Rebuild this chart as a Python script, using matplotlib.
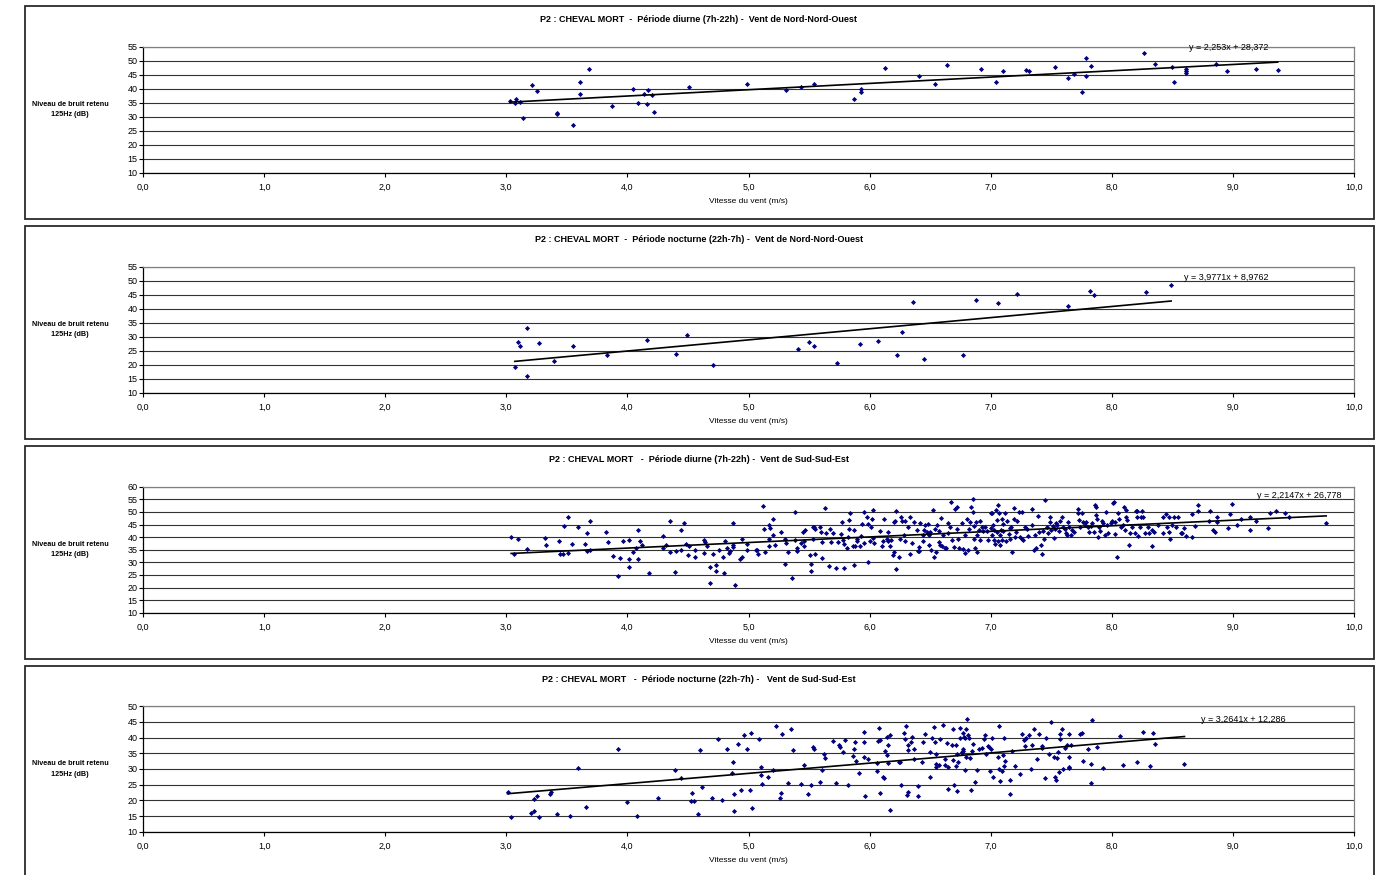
import numpy as np
import matplotlib.pyplot as plt
from matplotlib.patches import Rectangle
from matplotlib.ticker import FuncFormatter

plt.rcParams['font.family'] = ['Liberation Sans', 'DejaVu Sans']

# ---- données : vitesse du vent (m/s) / niveau de bruit 125Hz (dB) ----
titles = [
    "P2 : CHEVAL MORT  -  Période diurne (7h-22h) -  Vent de Nord-Nord-Ouest",
    "P2 : CHEVAL MORT  -  Période nocturne (22h-7h) -  Vent de Nord-Nord-Ouest",
    "P2 : CHEVAL MORT   -  Période diurne (7h-22h) -  Vent de Sud-Sud-Est",
    "P2 : CHEVAL MORT   -  Période nocturne (22h-7h) -   Vent de Sud-Sud-Est",
]
y_max = [55, 55, 60, 50]
trend_a = [2.253, 3.9771, 2.2147, 3.2641]
trend_b = [28.372, 8.9762, 26.778, 12.286]

x1 = [3.03, 3.07, 3.08, 3.11, 3.14, 3.21, 3.25, 3.42, 3.42, 3.55, 3.61, 3.61, 3.68, 3.87,
      4.05, 4.09, 4.14, 4.17, 4.16, 4.20, 4.22, 4.51, 4.99, 5.31, 5.43, 5.54, 5.87, 5.93,
      5.93, 6.13, 6.41, 6.54, 6.64, 6.92, 7.04, 7.10, 7.29, 7.32, 7.53, 7.64, 7.69, 7.75,
      7.79, 7.79, 7.83, 8.27, 8.36, 8.50, 8.51, 8.61, 8.61, 8.61, 8.86, 8.95, 9.19, 9.37]
y1 = [35.7, 34.9, 36.3, 35.1, 29.5, 41.3, 39.2, 31.4, 31.0, 26.9, 42.5, 38.2, 47.1, 33.8,
      40.0, 34.9, 38.2, 39.5, 34.6, 37.9, 31.5, 40.5, 41.8, 39.6, 40.7, 41.5, 36.2, 39.9,
      38.7, 47.5, 44.5, 41.5, 48.3, 46.9, 42.4, 46.4, 46.7, 46.4, 47.7, 43.8, 45.2, 38.9,
      50.8, 44.5, 48.1, 52.6, 48.7, 47.7, 42.4, 47.0, 46.3, 45.7, 48.7, 46.4, 47.1, 46.7]

x2 = [3.07, 3.10, 3.11, 3.17, 3.17, 3.27, 3.39, 3.55, 3.83, 4.16, 4.40, 4.49, 4.71, 5.41,
      5.50, 5.54, 5.73, 5.92, 6.07, 6.23, 6.27, 6.36, 6.45, 6.77, 6.88, 7.06, 7.22, 7.64,
      7.82, 7.85, 8.28, 8.49]
y2 = [19.3, 28.0, 26.7, 33.1, 16.0, 27.6, 21.3, 26.7, 23.6, 28.7, 23.8, 30.5, 19.8, 25.5,
      28.2, 26.7, 20.7, 27.4, 28.5, 23.3, 31.5, 42.4, 22.0, 23.6, 43.1, 42.0, 45.2, 41.1,
      46.4, 44.9, 45.9, 48.5]

pts3 = [
    (3.04, 40.1), (3.06, 33.4), (3.10, 39.4), (3.17, 35.2), (3.32, 39.7), (3.33, 36.8),
    (3.435, 38.6), (3.44, 33.2), (3.47, 33.4), (3.48, 44.6), (3.51, 33.8), (3.51, 48.0),
    (3.54, 37.4), (3.59, 44.0), (3.65, 37.4), (3.67, 41.8), (3.67, 34.4), (3.69, 34.8),
    (3.69, 46.5), (3.82, 42.1), (3.84, 38.1), (3.88, 32.6), (3.925, 24.6), (3.94, 31.8),
    (3.96, 38.6), (4.01, 38.9), (4.01, 31.2), (4.01, 28.3), (4.05, 33.9), (4.07, 35.5),
    (4.09, 42.8), (4.09, 31.4), (4.10, 38.4), (4.12, 36.8), (4.18, 25.8), (4.29, 40.5),
    (4.29, 35.5), (4.32, 36.8), (4.35, 46.3), (4.35, 34.1), (4.39, 26.2), (4.40, 34.4),
    (4.44, 42.8), (4.44, 34.7), (4.47, 45.6), (4.48, 37.2), (4.50, 33.0), (4.51, 36.5),
    (4.56, 34.7), (4.56, 32.0), (4.63, 38.9), (4.63, 33.6), (4.64, 38.1), (4.66, 36.6),
    (4.68, 28.3), (4.685, 21.9), (4.71, 33.1), (4.73, 29.1), (4.73, 26.4), (4.76, 34.7),
    (4.79, 32.3), (4.80, 25.8), (4.81, 38.4), (4.82, 35.5), (4.84, 33.6), (4.85, 34.4),
    (4.87, 36.8), (4.87, 35.9), (4.87, 45.5), (4.89, 20.8), (4.93, 31.5), (4.95, 32.3),
    (4.95, 39.4), (4.99, 37.3), (4.99, 34.7), (5.06, 34.7), (5.07, 34.9), (5.08, 33.2),
    (5.12, 52.3), (5.13, 43.1), (5.14, 34.1), (5.17, 44.7), (5.17, 39.4), (5.17, 36.5),
    (5.18, 43.6), (5.20, 47.1), (5.20, 40.7), (5.22, 36.9), (5.27, 42.2), (5.30, 39.4),
    (5.30, 29.4), (5.31, 37.8), (5.33, 34.1), (5.36, 23.9), (5.38, 38.9), (5.38, 50.0),
    (5.40, 35.5), (5.40, 34.5), (5.43, 37.8), (5.45, 42.2), (5.46, 36.5), (5.46, 38.6),
    (5.47, 42.8), (5.51, 32.8), (5.52, 29.3), (5.52, 26.4), (5.53, 43.9), (5.535, 39.4),
    (5.54, 43.9), (5.55, 33.4), (5.55, 43.4), (5.59, 44.0), (5.60, 42.1), (5.605, 31.8),
    (5.61, 38.1), (5.63, 51.4), (5.64, 41.5), (5.665, 28.6), (5.67, 43.4), (5.68, 38.1),
    (5.695, 41.5), (5.72, 27.8), (5.74, 38.1), (5.76, 41.3), (5.77, 45.8), (5.78, 38.9),
    (5.79, 37.3), (5.79, 27.8), (5.81, 35.5), (5.82, 40.2), (5.83, 46.7), (5.83, 43.1),
    (5.84, 49.7), (5.86, 36.5), (5.87, 42.8), (5.87, 29.1), (5.88, 36.3), (5.90, 39.4),
    (5.90, 38.6), (5.92, 36.3), (5.93, 40.5), (5.94, 45.2), (5.95, 37.8), (5.95, 50.0),
    (5.98, 48.1), (5.99, 45.2), (5.99, 30.2), (6.00, 38.4), (6.01, 44.2), (6.02, 47.3),
    (6.03, 50.8), (6.03, 39.7), (6.04, 37.8), (6.09, 42.6), (6.10, 36.3), (6.11, 38.6),
    (6.12, 47.1), (6.14, 39.4), (6.15, 42.1), (6.155, 38.4), (6.17, 36.5), (6.18, 38.9),
    (6.19, 32.8), (6.20, 33.9), (6.20, 45.8), (6.21, 46.3), (6.22, 27.5), (6.22, 50.5),
    (6.24, 32.0), (6.25, 39.4), (6.26, 48.1), (6.27, 46.3), (6.28, 41.0), (6.29, 46.5),
    (6.29, 38.4), (6.32, 44.2), (6.33, 48.1), (6.33, 33.1), (6.35, 37.8), (6.37, 45.8),
    (6.39, 42.8), (6.40, 34.4), (6.41, 36.0),
    (6.41, 34.4), (6.42, 45.5), (6.44, 41.0), (6.44, 38.6), (6.45, 42.8), (6.46, 45.0),
    (6.47, 42.1), (6.48, 45.2), (6.49, 40.7), (6.49, 36.8), (6.50, 42.1), (6.51, 34.7),
    (6.52, 50.8), (6.53, 32.0), (6.54, 43.1), (6.55, 33.9), (6.56, 44.7), (6.57, 42.3),
    (6.57, 38.1), (6.58, 36.8), (6.59, 47.6), (6.60, 36.3), (6.61, 40.7), (6.62, 35.5),
    (6.63, 35.7), (6.645, 41.5), (6.65, 45.5), (6.66, 43.9), (6.67, 53.9), (6.68, 38.9),
    (6.70, 36.0), (6.705, 51.0), (6.72, 51.8), (6.72, 43.4), (6.73, 39.2), (6.74, 35.5),
    (6.76, 45.5), (6.77, 35.2), (6.79, 40.7), (6.79, 33.6), (6.805, 47.1), (6.81, 34.7),
    (6.82, 43.4), (6.83, 45.8), (6.84, 51.8), (6.85, 50.0), (6.855, 55.3), (6.86, 39.4),
    (6.865, 44.4), (6.87, 35.7), (6.88, 46.0), (6.89, 34.1), (6.89, 40.7), (6.90, 42.8),
    (6.91, 38.9), (6.915, 46.5), (6.925, 44.2), (6.94, 42.3), (6.955, 43.9), (6.97, 42.3),
    (6.98, 38.9), (7.00, 49.4), (7.00, 43.6), (7.01, 49.4), (7.01, 41.0), (7.02, 44.7),
    (7.025, 38.9), (7.03, 42.8), (7.035, 37.3), (7.04, 50.8), (7.05, 42.1), (7.05, 46.8),
    (7.06, 38.4), (7.06, 52.9), (7.07, 49.4), (7.075, 40.7), (7.08, 36.8), (7.085, 42.8),
    (7.09, 38.9), (7.095, 47.3), (7.10, 42.6), (7.105, 45.2), (7.12, 49.4), (7.125, 38.6),
    (7.135, 46.3), (7.15, 41.3), (7.16, 43.6), (7.16, 39.2), (7.17, 43.9), (7.18, 34.1),
    (7.19, 51.6), (7.195, 47.3), (7.20, 40.2), (7.21, 42.1), (7.22, 46.5), (7.23, 50.0),
    (7.245, 40.2), (7.255, 50.0), (7.26, 39.4), (7.27, 38.9), (7.285, 43.9), (7.30, 43.1),
    (7.305, 40.5), (7.34, 51.3), (7.345, 45.0), (7.355, 34.9), (7.365, 41.0), (7.375, 35.5),
    (7.39, 48.4), (7.40, 42.1), (7.415, 36.8), (7.42, 33.1), (7.43, 42.3), (7.44, 39.2),
    (7.45, 54.7), (7.465, 43.9), (7.476, 41.8), (7.49, 46.0), (7.49, 48.1), (7.50, 42.8),
    (7.515, 44.4), (7.525, 39.7), (7.53, 43.1), (7.54, 45.5), (7.55, 44.7), (7.565, 42.3),
    (7.575, 46.3), (7.585, 47.9), (7.60, 44.2), (7.61, 43.1), (7.62, 41.5), (7.63, 40.7),
    (7.64, 45.8), (7.65, 44.2), (7.665, 40.7), (7.67, 42.8), (7.685, 42.1), (7.72, 51.0),
    (7.725, 49.4), (7.73, 46.8), (7.735, 44.2), (7.75, 49.4), (7.76, 45.8), (7.775, 45.0),
    (7.785, 45.8), (7.80, 44.2), (7.81, 42.1), (7.83, 44.4), (7.84, 45.5), (7.85, 42.1),
    (7.86, 52.6), (7.87, 48.7), (7.87, 51.8), (7.88, 47.1), (7.885, 40.2), (7.895, 43.9),
    (7.905, 42.6), (7.92, 46.3), (7.93, 45.5), (7.94, 40.7), (7.95, 50.0), (7.96, 45.0),
    (7.97, 41.5), (7.99, 45.5), (8.005, 46.5), (8.01, 53.4), (8.02, 53.9), (8.03, 46.0),
    (8.03, 41.3), (8.04, 32.3), (8.05, 49.4), (8.06, 47.3), (8.075, 44.2), (8.09, 45.0),
    (8.10, 51.8), (8.11, 42.8), (8.115, 48.1), (8.12, 50.8), (8.125, 46.8), (8.14, 36.8),
    (8.15, 41.8), (8.165, 44.2), (8.19, 41.8), (8.20, 50.2), (8.205, 47.9), (8.21, 50.2),
    (8.22, 40.5), (8.23, 43.9), (8.24, 47.9), (8.25, 50.2), (8.26, 47.9), (8.275, 41.5),
    (8.30, 43.9), (8.31, 41.5), (8.33, 42.8), (8.335, 36.5), (8.345, 42.1), (8.385, 44.7),
    (8.42, 47.9), (8.42, 41.5), (8.445, 49.2), (8.455, 43.9), (8.47, 47.9), (8.47, 42.1),
    (8.48, 39.2), (8.495, 45.0), (8.51, 47.9), (8.53, 44.2), (8.545, 47.9), (8.57, 41.5),
    (8.58, 41.8), (8.595, 43.6), (8.61, 40.5), (8.66, 49.2), (8.66, 40.2), (8.69, 44.4),
    (8.71, 52.6), (8.715, 50.5), (8.80, 46.5), (8.81, 50.5), (8.835, 42.8), (8.85, 42.1),
    (8.865, 47.9), (8.87, 46.0), (8.96, 43.6), (8.98, 49.2), (8.99, 53.1), (9.035, 45.0),
    (9.07, 47.3), (9.14, 47.9), (9.145, 42.8), (9.19, 46.5), (9.29, 43.6), (9.31, 49.7),
    (9.36, 50.2), (9.43, 49.4), (9.46, 47.9), (9.77, 45.5),
]

pts4 = [
    (3.01, 22.7), (3.04, 14.7), (3.20, 16.0), (3.23, 16.5), (3.23, 20.4), (3.25, 21.3),
    (3.27, 14.7), (3.36, 22.0), (3.37, 22.7), (3.42, 15.5), (3.53, 14.9), (3.59, 30.4),
    (3.66, 17.9), (3.925, 36.4), (4.00, 19.5), (4.08, 15.1), (4.25, 20.9), (4.39, 29.6),
    (4.44, 27.2), (4.53, 22.2), (4.525, 19.9), (4.55, 19.9), (4.58, 15.5), (4.60, 36.0),
    (4.62, 24.3), (4.70, 20.6), (4.75, 39.7), (4.78, 20.2), (4.82, 36.5), (4.86, 28.6),
    (4.87, 32.1), (4.88, 22.0), (4.88, 16.5), (4.91, 37.9), (4.94, 23.2), (4.96, 40.9),
    (4.99, 36.5), (5.01, 23.4), (5.02, 41.4), (5.03, 17.6), (5.09, 39.7), (5.10, 30.5),
    (5.10, 28.0), (5.11, 25.2), (5.16, 27.4), (5.20, 29.8), (5.23, 43.6), (5.26, 20.6),
    (5.27, 22.2), (5.28, 41.1), (5.33, 25.5), (5.35, 42.8), (5.37, 36.2), (5.43, 25.3),
    (5.46, 31.4), (5.49, 22.1), (5.52, 24.9), (5.53, 37.1), (5.54, 36.3), (5.59, 26.0),
    (5.61, 29.8), (5.62, 34.7),
    (5.63, 33.6), (5.70, 39.0), (5.72, 25.6), (5.75, 37.6), (5.755, 36.9), (5.78, 35.4),
    (5.80, 39.3), (5.82, 25.0), (5.86, 34.1), (5.87, 36.3), (5.88, 38.6), (5.89, 32.7),
    (5.91, 28.7), (5.95, 41.9), (5.95, 38.7), (5.95, 33.9), (5.96, 21.3), (5.99, 33.1),
    (6.06, 29.4), (6.06, 32.0), (6.07, 38.8), (6.075, 43.1), (6.085, 39.4), (6.085, 22.2),
    (6.11, 27.3), (6.12, 27.1), (6.13, 35.7), (6.14, 40.3), (6.145, 34.4), (6.15, 37.7),
    (6.155, 32.0), (6.17, 40.9), (6.17, 17.0), (6.24, 32.2), (6.25, 32.2), (6.26, 24.8),
    (6.28, 41.5), (6.29, 39.5), (6.30, 43.8), (6.31, 21.6), (6.32, 22.7), (6.32, 36.1),
    (6.32, 37.7), (6.34, 38.6), (6.35, 40.3), (6.37, 33.3), (6.37, 36.5), (6.40, 24.5),
    (6.40, 21.5), (6.43, 32.3), (6.44, 38.5), (6.46, 41.3), (6.50, 27.4), (6.50, 35.4),
    (6.515, 39.9), (6.53, 43.5), (6.54, 38.6), (6.55, 34.8), (6.55, 31.6), (6.55, 30.5),
    (6.575, 31.2), (6.58, 39.5), (6.61, 44.0), (6.62, 33.1), (6.625, 31.3), (6.64, 38.3),
    (6.65, 30.5), (6.65, 23.6), (6.68, 37.7), (6.685, 32.9), (6.69, 42.6), (6.70, 24.8),
    (6.71, 37.7), (6.71, 31.0), (6.72, 23.0), (6.725, 34.7), (6.73, 32.2), (6.745, 39.9),
    (6.75, 43.0), (6.76, 35.4), (6.76, 35.2), (6.77, 36.3), (6.775, 41.4), (6.775, 35.9),
    (6.78, 40.2), (6.785, 39.8), (6.79, 29.7), (6.795, 33.8), (6.80, 42.7), (6.807, 46.1),
    (6.81, 41.0), (6.82, 39.9), (6.825, 33.6), (6.835, 23.2), (6.845, 35.7), (6.855, 37.9),
    (6.87, 25.9), (6.885, 29.7), (6.90, 36.3), (6.93, 36.7), (6.945, 39.7), (6.95, 40.7),
    (6.965, 34.8), (6.98, 37.3), (6.99, 37.0), (6.995, 29.3), (7.00, 36.3), (7.01, 39.8),
    (7.02, 27.6), (7.06, 33.8), (7.065, 43.6), (7.07, 30.0), (7.08, 26.3), (7.09, 29.4),
    (7.10, 34.4), (7.11, 39.9), (7.11, 31.0), (7.115, 32.6), (7.16, 26.5), (7.16, 22.0),
    (7.18, 35.6), (7.20, 31.0), (7.24, 28.4), (7.26, 41.1), (7.275, 39.3), (7.28, 39.7),
    (7.285, 37.4), (7.29, 39.9), (7.32, 40.9), (7.33, 30.0), (7.34, 37.8), (7.36, 42.7),
    (7.385, 33.2), (7.40, 41.1), (7.42, 37.4), (7.425, 36.7), (7.445, 27.0), (7.46, 39.9),
    (7.48, 34.9), (7.50, 45.1), (7.52, 33.9), (7.535, 27.6), (7.54, 26.6), (7.545, 33.6),
    (7.555, 35.4), (7.56, 28.9), (7.57, 41.3), (7.575, 39.7), (7.59, 42.8), (7.595, 30.0),
    (7.61, 36.8), (7.63, 37.7), (7.65, 41.1), (7.65, 33.7), (7.65, 30.7), (7.65, 30.3),
    (7.66, 37.8), (7.74, 41.1), (7.75, 41.5), (7.765, 32.6), (7.80, 36.3), (7.825, 25.6),
    (7.83, 31.6), (7.84, 45.6), (7.88, 36.9), (7.925, 30.4), (8.07, 40.6), (8.09, 31.4),
    (8.205, 32.2), (8.26, 41.9), (8.315, 31.0), (8.34, 41.4), (8.36, 38.0), (8.60, 31.6),
]

x3, y3 = np.array(pts3).T
x4, y4 = np.array(pts4).T
series = [(np.array(x1), np.array(y1)), (np.array(x2), np.array(y2)), (x3, y3), (x4, y4)]

# ---- mise en page (pixels de l'image 1379x875) ----
W, H = 1379, 875
box_px = [(6, 219), (226, 439), (446, 659), (666, 885)]
ax_px = [(46.7, 172.7), (266.7, 392.7), (486.7, 612.7), (706.3, 831.7)]
eq_pos = [(8.965, 54.6), (8.945, 51.2), (9.545, 56.7), (9.09, 45.7)]

fig = plt.figure(figsize=(W / 100, H / 100), dpi=100)
fig.patch.set_facecolor('white')

comma = FuncFormatter(lambda v, p: f"{v:.1f}".replace('.', ','))

for i in range(4):
    bt, bb = box_px[i]
    fig.add_artist(Rectangle((25 / W, 1 - bb / H), 1349 / W, (bb - bt) / H,
                             transform=fig.transFigure, fill=False,
                             edgecolor='#2a2a2a', lw=1.3))
    top, bot = ax_px[i]
    ax = fig.add_axes([143 / W, 1 - bot / H, 1211 / W, (bot - top) / H])
    x, y = series[i]

    ax.plot(x, y, 'D', ms=2.6, color='#000080', mec='#000080', mew=0, zorder=3)
    xs = np.array([x.min(), x.max()])
    ax.plot(xs, trend_a[i] * xs + trend_b[i], color='black', lw=1.2, zorder=4)

    eq = f"y = {trend_a[i]}x + {trend_b[i]}".replace('.', ',')
    ax.text(eq_pos[i][0], eq_pos[i][1], eq, ha='center', va='center', fontsize=6.5, zorder=5)

    ax.set_xlim(0, 10)
    ax.set_ylim(10, y_max[i])
    ax.set_xticks(np.arange(0, 11, 1))
    ax.set_yticks(np.arange(10, y_max[i] + 1, 5))
    ax.xaxis.set_major_formatter(comma)
    ax.yaxis.grid(True, color='#333333', lw=0.8)
    ax.set_axisbelow(True)
    for s in ['left', 'bottom']:
        ax.spines[s].set_color('black')
        ax.spines[s].set_linewidth(0.9)
    for s in ['top', 'right']:
        ax.spines[s].set_color('#808080')
        ax.spines[s].set_linewidth(0.9)
    ax.tick_params(axis='x', direction='out', length=3, pad=4.5, labelsize=6.5)
    ax.tick_params(axis='y', direction='out', length=3, pad=1, labelsize=6.5)

    fig.text(699 / W, 1 - (bt + 14) / H, titles[i], ha='center', va='center',
             fontsize=6.5, fontweight='bold')
    fig.text(748 / W, 1 - (bot + 29) / H, "Vitesse du vent (m/s)", ha='center',
             va='center', fontsize=6)
    fig.text(70 / W, 1 - (top + bot) / 2 / H, "Niveau de bruit retenu\n125Hz (dB)",
             ha='center', va='center', fontsize=5.2, fontweight='bold',
             multialignment='center', linespacing=1.7)

fig.savefig('out.png', dpi=100)
